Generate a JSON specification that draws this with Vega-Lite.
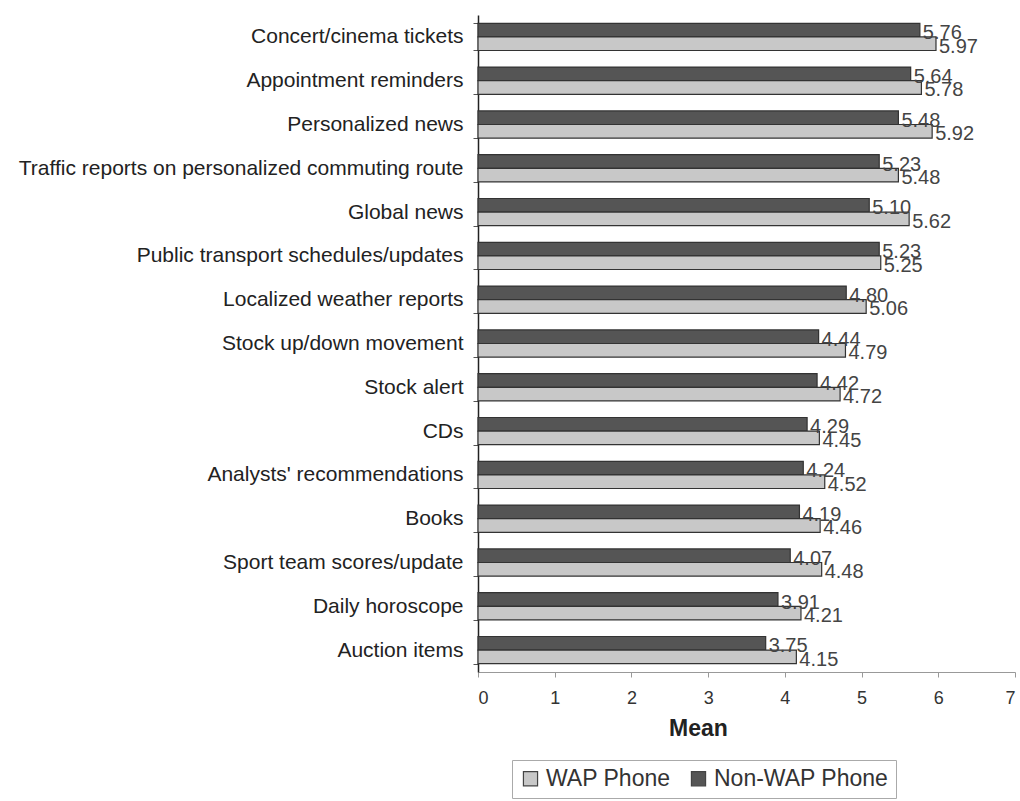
{
  "$schema": "https://vega.github.io/schema/vega-lite/v6.json",
  "autosize": "none",
  "padding": {"left": 478, "top": 15, "right": 5, "bottom": 129},
  "width": 537,
  "height": 657,
  "background": "white",
  "data": {
    "values": [
      {"item": "Concert/cinema tickets", "phone": "Non-WAP Phone", "mean": 5.76},
      {"item": "Concert/cinema tickets", "phone": "WAP Phone", "mean": 5.97},
      {"item": "Appointment reminders", "phone": "Non-WAP Phone", "mean": 5.64},
      {"item": "Appointment reminders", "phone": "WAP Phone", "mean": 5.78},
      {"item": "Personalized news", "phone": "Non-WAP Phone", "mean": 5.48},
      {"item": "Personalized news", "phone": "WAP Phone", "mean": 5.92},
      {"item": "Traffic reports on personalized commuting route", "phone": "Non-WAP Phone", "mean": 5.23},
      {"item": "Traffic reports on personalized commuting route", "phone": "WAP Phone", "mean": 5.48},
      {"item": "Global news", "phone": "Non-WAP Phone", "mean": 5.10},
      {"item": "Global news", "phone": "WAP Phone", "mean": 5.62},
      {"item": "Public transport schedules/updates", "phone": "Non-WAP Phone", "mean": 5.23},
      {"item": "Public transport schedules/updates", "phone": "WAP Phone", "mean": 5.25},
      {"item": "Localized weather reports", "phone": "Non-WAP Phone", "mean": 4.80},
      {"item": "Localized weather reports", "phone": "WAP Phone", "mean": 5.06},
      {"item": "Stock up/down movement", "phone": "Non-WAP Phone", "mean": 4.44},
      {"item": "Stock up/down movement", "phone": "WAP Phone", "mean": 4.79},
      {"item": "Stock alert", "phone": "Non-WAP Phone", "mean": 4.42},
      {"item": "Stock alert", "phone": "WAP Phone", "mean": 4.72},
      {"item": "CDs", "phone": "Non-WAP Phone", "mean": 4.29},
      {"item": "CDs", "phone": "WAP Phone", "mean": 4.45},
      {"item": "Analysts' recommendations", "phone": "Non-WAP Phone", "mean": 4.24},
      {"item": "Analysts' recommendations", "phone": "WAP Phone", "mean": 4.52},
      {"item": "Books", "phone": "Non-WAP Phone", "mean": 4.19},
      {"item": "Books", "phone": "WAP Phone", "mean": 4.46},
      {"item": "Sport team scores/update", "phone": "Non-WAP Phone", "mean": 4.07},
      {"item": "Sport team scores/update", "phone": "WAP Phone", "mean": 4.48},
      {"item": "Daily horoscope", "phone": "Non-WAP Phone", "mean": 3.91},
      {"item": "Daily horoscope", "phone": "WAP Phone", "mean": 4.21},
      {"item": "Auction items", "phone": "Non-WAP Phone", "mean": 3.75},
      {"item": "Auction items", "phone": "WAP Phone", "mean": 4.15}
    ]
  },
  "encoding": {
    "y": {
      "field": "item",
      "type": "nominal",
      "sort": null,
      "title": null,
      "scale": {"paddingInner": 0.38, "paddingOuter": 0.19},
      "axis": {
        "tickBand": "extent",
        "tickSize": 5,
        "tickColor": "#555",
        "domainColor": "#222",
        "domainWidth": 1.5,
        "labelFont": "Liberation Sans",
        "labelFontSize": 21,
        "labelColor": "#222",
        "labelLimit": 600,
        "labelPadding": 10
      }
    },
    "yOffset": {
      "field": "phone",
      "type": "nominal",
      "sort": ["Non-WAP Phone", "WAP Phone"]
    },
    "x": {
      "field": "mean",
      "type": "quantitative",
      "title": "Mean",
      "scale": {"domain": [0, 7], "nice": false},
      "axis": {
        "values": [0, 1, 2, 3, 4, 5, 6, 7],
        "grid": false,
        "domainColor": "#999",
        "tickColor": "#999",
        "tickSize": 5,
        "labelFont": "Liberation Sans",
        "labelFontSize": 18,
        "labelColor": "#333",
        "labelPadding": 12,
        "titleFont": "Liberation Sans",
        "titleFontSize": 23,
        "titleFontWeight": "bold",
        "titleColor": "#222",
        "titleX": 220,
        "titleY": 63,
        "titleAlign": "center",
        "titleBaseline": "alphabetic"
      }
    }
  },
  "layer": [
    {
      "mark": {"type": "bar", "stroke": "#333", "strokeWidth": 1.2},
      "encoding": {
        "color": {
          "field": "phone",
          "type": "nominal",
          "scale": {"domain": ["WAP Phone", "Non-WAP Phone"], "range": ["#c8c8c8", "#555555"]},
          "legend": {
            "title": null,
            "orient": "none",
            "legendX": 34,
            "legendY": 745,
            "direction": "horizontal",
            "symbolType": "square",
            "symbolSize": 200,
            "symbolStrokeColor": "#444",
            "symbolStrokeWidth": 1.2,
            "labelFont": "Liberation Sans",
            "labelFontSize": 23,
            "labelLimit": 400,
            "labelColor": "#333",
            "labelOffset": 4,
            "columnPadding": 16,
            "padding": 7,
            "strokeColor": "#aaa",
            "fillColor": "white"
          }
        }
      }
    },
    {
      "mark": {
        "type": "text",
        "align": "left",
        "baseline": "middle",
        "dx": 3,
        "dy": 3,
        "font": "Liberation Sans",
        "fontSize": 20,
        "fill": "#444"
      },
      "encoding": {
        "text": {"field": "mean", "type": "quantitative", "format": ".2f"}
      }
    }
  ],
  "config": {"view": {"stroke": null}}
}
